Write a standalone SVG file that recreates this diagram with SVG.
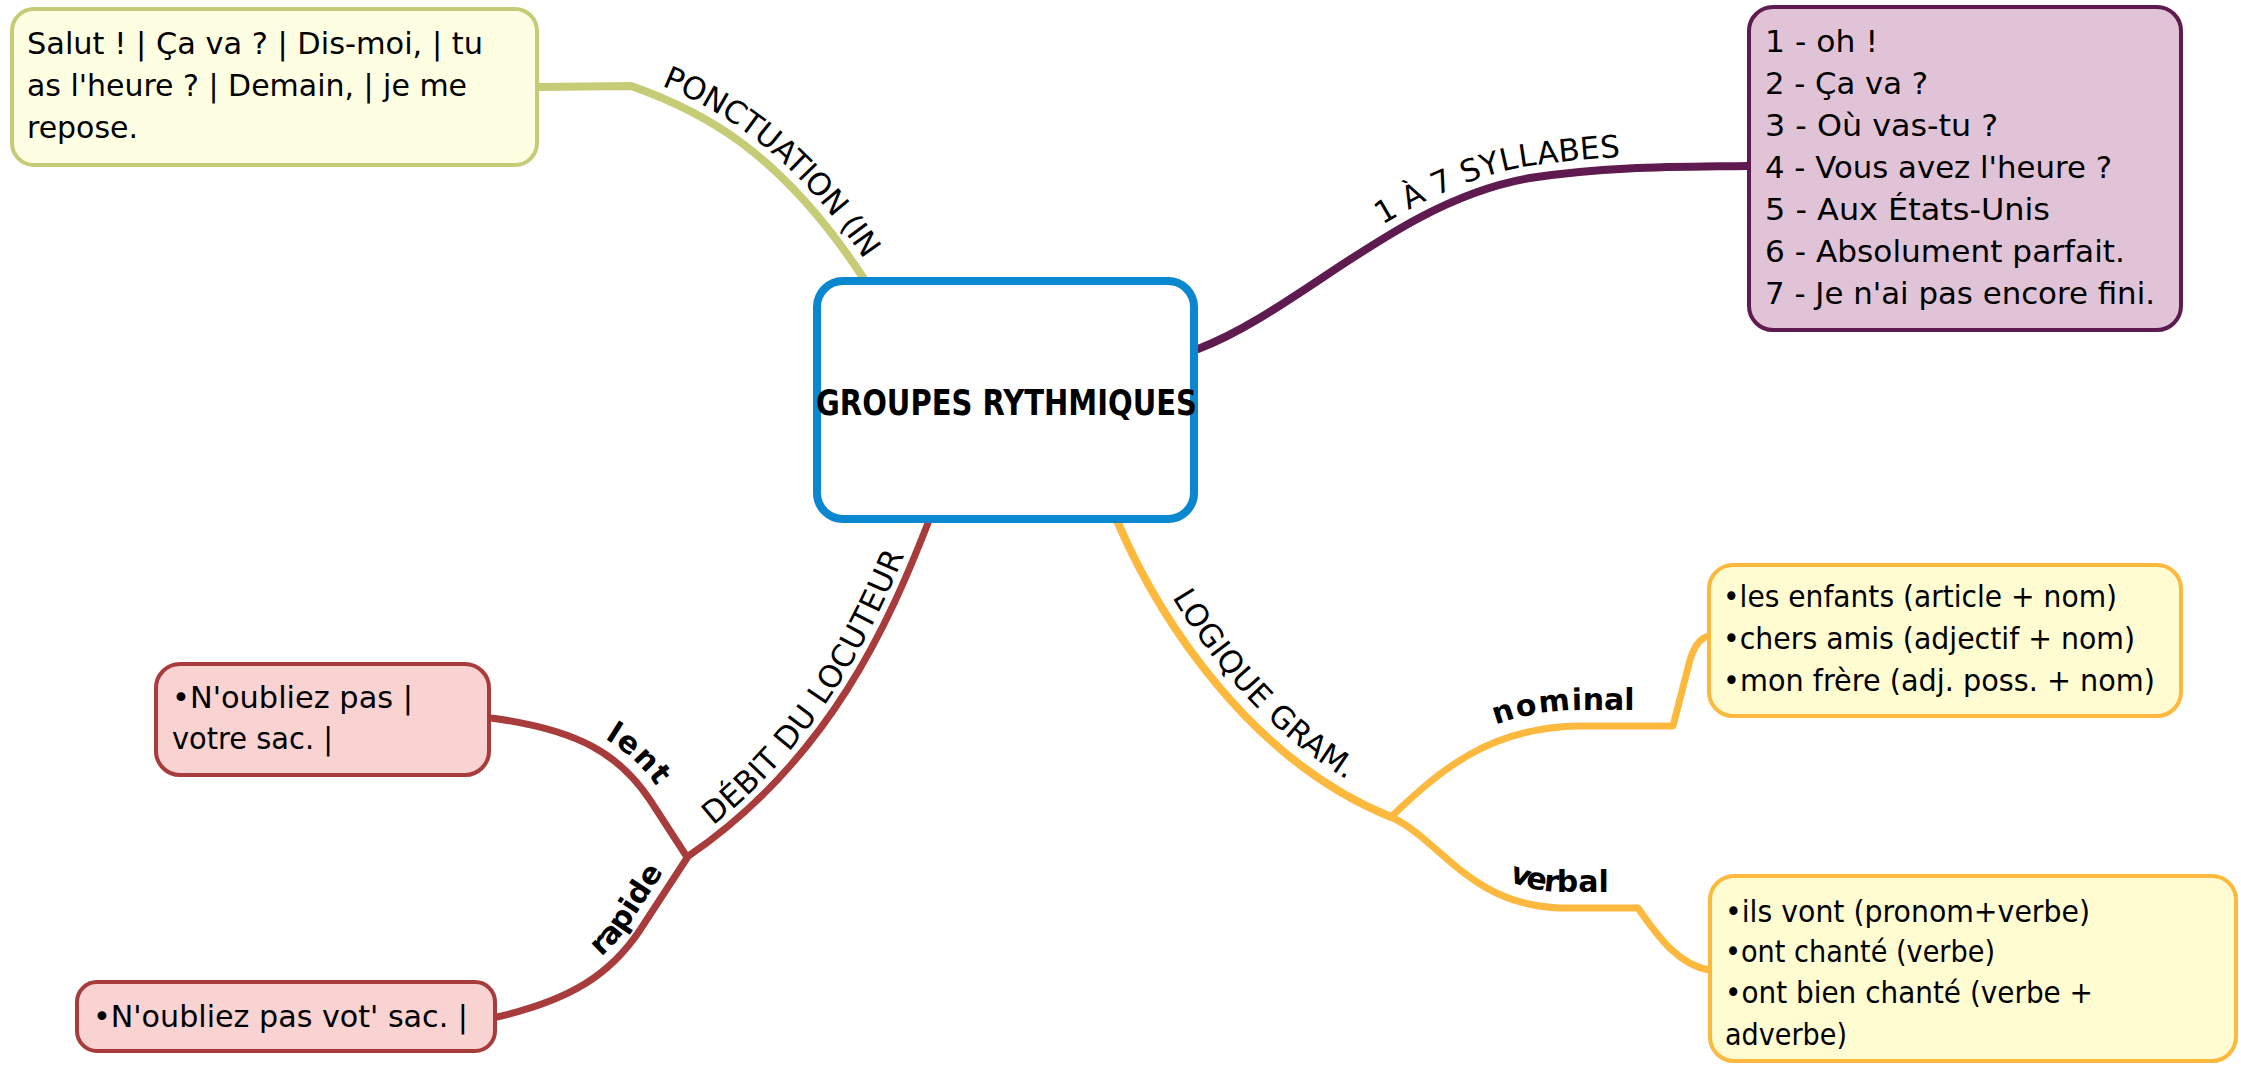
<svg xmlns="http://www.w3.org/2000/svg" xmlns:xlink="http://www.w3.org/1999/xlink" width="2241" height="1069" viewBox="0 0 2241 1069">
<style>
.box{stroke-width:4}
.txt{font-family:"DejaVu Sans","Liberation Sans",sans-serif;font-size:31px;fill:#000}
.lbl{font-family:"DejaVu Sans","Liberation Sans",sans-serif;font-size:31px;fill:#000}
.sub{font-family:"DejaVu Sans","Liberation Sans",sans-serif;font-size:30px;font-weight:bold;fill:#000}
.title{font-family:"DejaVu Sans","Liberation Sans",sans-serif;font-size:35px;font-weight:bold;fill:#000}
.con{fill:none;stroke-linecap:round;stroke-linejoin:round}
.g{stroke:#c5cc75}.p{stroke:#5f1a4f}.y{stroke:#fdb93d}.r{stroke:#a83b3b}
</style>
<rect width="2241" height="1069" fill="#ffffff"/>
<g id="connectors">
<path id="c-green" class="con g" stroke-width="8" d="M539,87 L631,86 C700,110 780,150 864,279"/>
<path id="c-purple" class="con p" stroke-width="8" d="M1198,349 C1300,310 1400,200 1530,178 C1610,166 1680,167 1747,166"/>
<path id="c-red" class="con r" stroke-width="7" d="M687,857 C830,760 890,620 928,523"/>
<path id="c-lent" class="con r" stroke-width="7" d="M491,718 C580,730 620,755 650,800 L687,857"/>
<path id="c-rapide" class="con r" stroke-width="7" d="M497,1017 C570,1000 610,975 640,930 L687,858"/>
<path id="c-yellow" class="con y" stroke-width="8" d="M1118,523 C1160,620 1250,760 1391,817"/>
<path id="c-nominal" class="con y" stroke-width="7" d="M1391,817 C1440,770 1490,727 1580,726 L1673,726 L1690,660 Q1696,640 1708,636"/>
<path id="c-verbal" class="con y" stroke-width="7" d="M1393,818 C1440,840 1470,905 1560,908 L1638,908 C1660,940 1680,965 1709,970"/>
</g>
<g id="labels">
<text class="lbl" dy="-11"><textPath href="#c-green" startOffset="120" textLength="265" lengthAdjust="spacing">PONCTUATION (IN</textPath></text>
<text class="lbl" dy="-12"><textPath href="#c-purple" startOffset="222" textLength="245" lengthAdjust="spacing">1 À 7 SYLLABES</textPath></text>
<text class="lbl" dy="-10"><textPath href="#c-red" startOffset="40" textLength="340" lengthAdjust="spacing">DÉBIT DU LOCUTEUR</textPath></text>
<text class="lbl" dy="-14"><textPath href="#c-yellow" startOffset="92" textLength="262" lengthAdjust="spacing">LOGIQUE GRAM.</textPath></text>
<text class="sub" dy="-13"><textPath href="#c-lent" startOffset="112">lent</textPath></text>
<text class="sub" dy="-12"><textPath href="#c-rapide" startOffset="125">rapide</textPath></text>
<text class="sub" dy="-16"><textPath href="#c-nominal" startOffset="135">nominal</textPath></text>
<text class="sub" dy="-16"><textPath href="#c-verbal" startOffset="136">verbal</textPath></text>
</g>
<g id="node-center">
<rect x="817" y="281" width="377" height="238" rx="26" fill="#ffffff" stroke="#0a87cf" stroke-width="8"/>
<text class="title" x="1006.5" y="415" text-anchor="middle" textLength="381" lengthAdjust="spacingAndGlyphs">GROUPES RYTHMIQUES</text>
</g>
<g id="node-ponctuation">
<rect class="box" x="12" y="9" width="525" height="156" rx="22" fill="#fefee3" stroke="#c5cc75"/>
<text class="txt" x="27" y="54" textLength="456" lengthAdjust="spacingAndGlyphs">Salut ! | Ça va ? | Dis-moi, | tu</text>
<text class="txt" x="27" y="96" textLength="440" lengthAdjust="spacingAndGlyphs">as l'heure ? | Demain, | je me</text>
<text class="txt" x="27" y="138" textLength="111" lengthAdjust="spacingAndGlyphs">repose.</text>
</g>
<g id="node-syllabes">
<rect class="box" x="1749" y="7" width="432" height="323" rx="24" fill="#e0c3d7" stroke="#5f1a4f"/>
<text class="txt" x="1765" y="52" textLength="113" lengthAdjust="spacingAndGlyphs">1 - oh !</text>
<text class="txt" x="1765" y="94" textLength="163" lengthAdjust="spacingAndGlyphs">2 - Ça va ?</text>
<text class="txt" x="1765" y="136" textLength="233" lengthAdjust="spacingAndGlyphs">3 - Où vas-tu ?</text>
<text class="txt" x="1765" y="178" textLength="347" lengthAdjust="spacingAndGlyphs">4 - Vous avez l'heure ?</text>
<text class="txt" x="1765" y="220" textLength="285" lengthAdjust="spacingAndGlyphs">5 - Aux États-Unis</text>
<text class="txt" x="1765" y="262" textLength="360" lengthAdjust="spacingAndGlyphs">6 - Absolument parfait.</text>
<text class="txt" x="1765" y="304" textLength="390" lengthAdjust="spacingAndGlyphs">7 - Je n'ai pas encore fini.</text>
</g>
<g id="node-nominal">
<rect class="box" x="1709" y="565" width="472" height="151" rx="24" fill="#fffcd2" stroke="#fdb93d"/>
<text class="txt" x="1723" y="607" textLength="394" lengthAdjust="spacingAndGlyphs">•les enfants (article + nom)</text>
<text class="txt" x="1723" y="649" textLength="412" lengthAdjust="spacingAndGlyphs">•chers amis (adjectif + nom)</text>
<text class="txt" x="1723" y="691" textLength="432" lengthAdjust="spacingAndGlyphs">•mon frère (adj. poss. + nom)</text>
</g>
<g id="node-verbal">
<rect class="box" x="1710" y="876" width="526" height="185" rx="24" fill="#fffcd2" stroke="#fdb93d"/>
<text class="txt" x="1725" y="922" textLength="365" lengthAdjust="spacingAndGlyphs">•ils vont (pronom+verbe)</text>
<text class="txt" x="1725" y="962" textLength="270" lengthAdjust="spacingAndGlyphs">•ont chanté (verbe)</text>
<text class="txt" x="1725" y="1003" textLength="368" lengthAdjust="spacingAndGlyphs">•ont bien chanté (verbe +</text>
<text class="txt" x="1725" y="1045" textLength="122" lengthAdjust="spacingAndGlyphs">adverbe)</text>
</g>
<g id="node-lent">
<rect class="box" x="156" y="664" width="333" height="111" rx="24" fill="#f9d2d2" stroke="#a83b3b"/>
<text class="txt" x="172" y="708" textLength="241" lengthAdjust="spacingAndGlyphs">•N'oubliez pas |</text>
<text class="txt" x="172" y="749" textLength="161" lengthAdjust="spacingAndGlyphs">votre sac. |</text>
</g>
<g id="node-rapide">
<rect class="box" x="77" y="982" width="418" height="69" rx="20" fill="#f9d2d2" stroke="#a83b3b"/>
<text class="txt" x="93" y="1027" textLength="375" lengthAdjust="spacingAndGlyphs">•N'oubliez pas vot' sac. |</text>
</g>
</svg>
